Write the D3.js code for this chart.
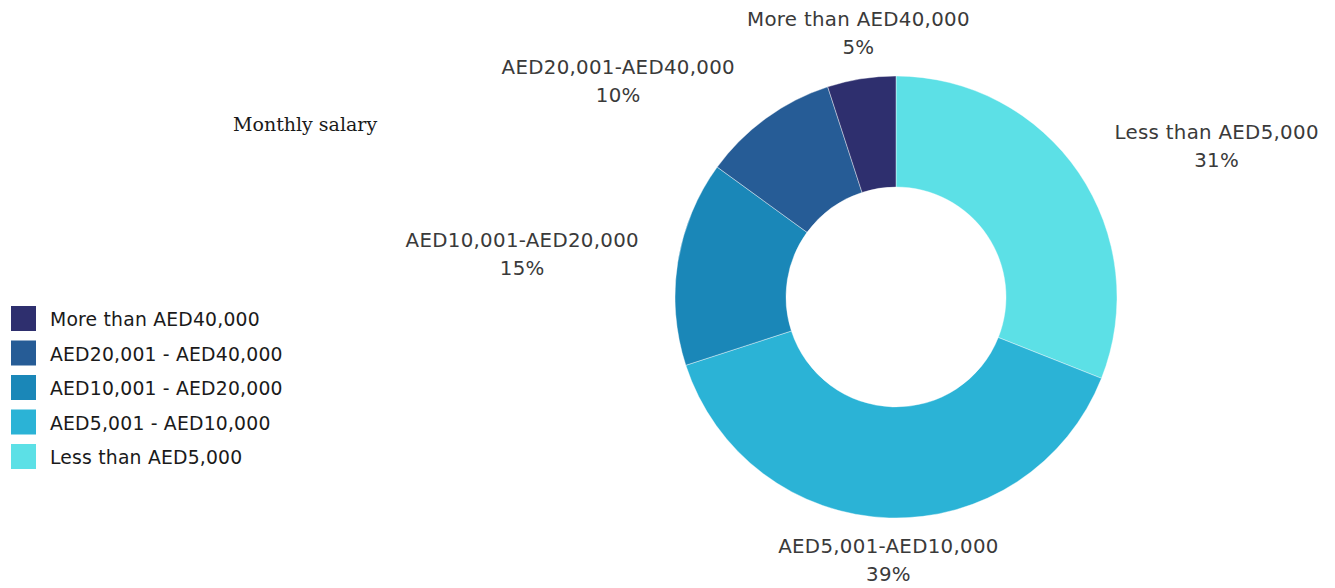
<!DOCTYPE html>
<html>
<head>
<meta charset="utf-8">
<script src="https://cdn.jsdelivr.net/npm/d3@7"></script>
<style>
  html, body { margin: 0; padding: 0; background: #ffffff; }
  svg { display: block; }
</style>
</head>
<body>
<svg id="chart" width="1335" height="588"></svg>
<script>
// Salary bands, in pie order (clockwise from 12 o'clock)
const categories = [
  "Less than AED5,000",
  "AED5,001-AED10,000",
  "AED10,001-AED20,000",
  "AED20,001-AED40,000",
  "More than AED40,000"
];
const shares = [31, 39, 15, 10, 5];
// Legend entries, listed top to bottom
const legendLabels = [
  "More than AED40,000",
  "AED20,001 - AED40,000",
  "AED10,001 - AED20,000",
  "AED5,001 - AED10,000",
  "Less than AED5,000"
];
const palette = ["#5ce0e6", "#2bb3d6", "#1a87b8", "#265c96", "#2e2f6e"];
const title = "Monthly salary";

const svg = d3.select("#chart");
const cx = 896, cy = 297;
const outerR = 221, innerR = 110;

const color = d3.scaleOrdinal().domain(categories).range(palette);

const data = categories.map((c, i) => ({ category: c, value: shares[i] }));
const pie = d3.pie().sort(null).value(d => d.value);
const arcs = pie(data);
const arc = d3.arc().innerRadius(innerR).outerRadius(outerR);

const g = svg.append("g").attr("transform", `translate(${cx},${cy})`);

g.selectAll("path.slice")
  .data(arcs)
  .join("path")
  .attr("class", "slice")
  .attr("d", arc)
  .attr("fill", d => color(d.data.category))
  .attr("stroke", "#ffffff")
  .attr("stroke-width", 0.4);

// Outside labels: anchored just beyond the ring, pushed out by the text box size
const labelFont = "'DejaVu Sans', 'Open Sans', sans-serif";
const anchorR = 240;
const lineGap = 28;
arcs.forEach(d => {
  const mid = (d.startAngle + d.endAngle) / 2;
  const ux = Math.sin(mid), uy = -Math.cos(mid);
  const ax = ux * anchorR, ay = uy * anchorR;
  const t = g.append("text")
    .attr("text-anchor", "middle")
    .attr("font-family", labelFont)
    .attr("font-size", 19.8)
    .attr("letter-spacing", 0.3)
    .attr("fill", "#3a3a3a");
  const l1 = t.append("tspan").attr("x", 0).attr("dy", 0).text(d.data.category);
  t.append("tspan").attr("x", 0).attr("dy", lineGap).text(d.data.value + "%");
  const w = l1.node().getComputedTextLength();
  const k = Math.max(0, Math.min(1, (Math.abs(ux) - 0.2) / 0.3));
  const bx = ax + Math.sign(ux) * (w / 2 + 20) * k;
  const by = ay + uy * 25;
  t.attr("transform", `translate(${bx},${by - 9})`);
});

// Title
svg.append("text")
  .attr("x", 233)
  .attr("y", 131)
  .attr("font-family", "'DejaVu Serif', 'Liberation Serif', serif")
  .attr("font-size", 19)
  .attr("fill", "#1a1a1a")
  .text(title);

// Legend
const legend = svg.append("g").attr("transform", "translate(11,306)");
const rowH = 34.5;
const items = legend.selectAll("g.item")
  .data(legendLabels)
  .join("g")
  .attr("class", "item")
  .attr("transform", (d, i) => `translate(0,${i * rowH})`);
items.append("rect")
  .attr("width", 25)
  .attr("height", 25)
  .attr("fill", d => color(d.replace(/ - /g, "-")));
items.append("text")
  .attr("x", 39)
  .attr("y", 20)
  .attr("font-family", "'DejaVu Sans', 'Open Sans', sans-serif")
  .attr("font-size", 18.8)
  .attr("letter-spacing", 0.2)
  .attr("fill", "#1a1a1a")
  .text(d => d);
</script>
</body>
</html>
